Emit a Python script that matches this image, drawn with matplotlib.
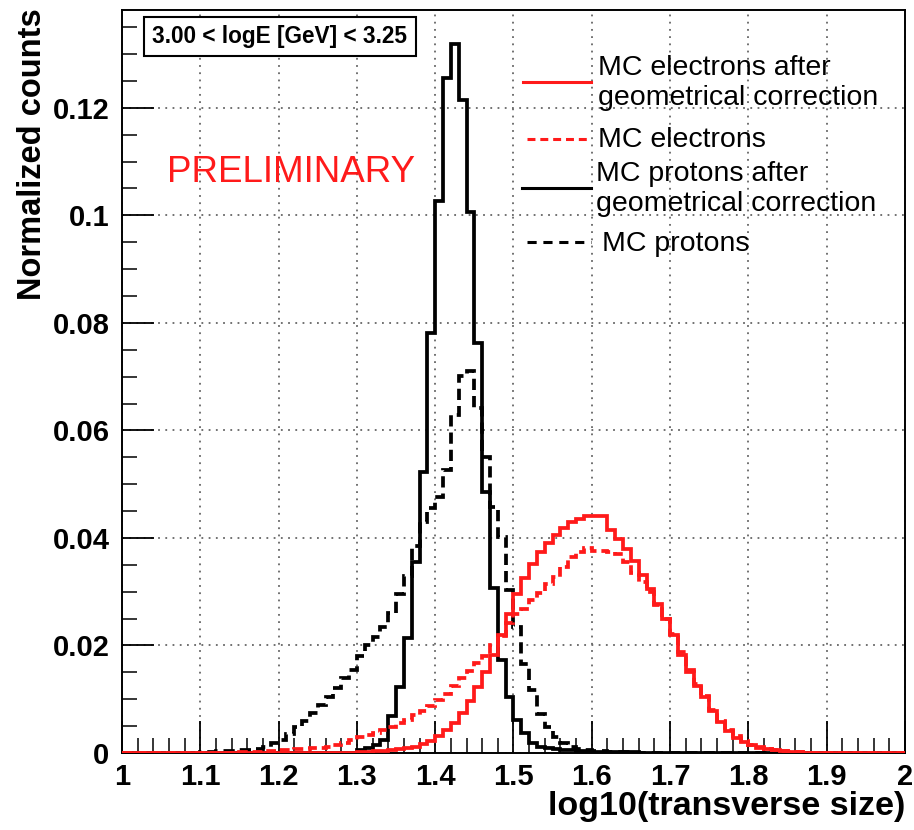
import numpy as np
import matplotlib
matplotlib.use("Agg")
import matplotlib.pyplot as plt
from matplotlib.lines import Line2D
from matplotlib.patches import Rectangle

# ---------------- data (bin width 0.01 on [1, 2]) ----------------
bin_lo, bin_hi, bin_w = 1.0, 2.0, 0.01

# MC protons after geometrical correction (first bin starts at 1.30)
prot_corr_start = 1.30
prot_corr = [0.0005, 0.0010, 0.0015, 0.0025, 0.0068, 0.0123, 0.0213, 0.0356,
             0.0523, 0.0781, 0.1026, 0.1255, 0.1319, 0.1215, 0.1007, 0.0762,
             0.0486, 0.0306, 0.0173, 0.0105, 0.0061, 0.0037, 0.0019, 0.0012,
             0.0010, 0.0008, 0.0006, 0.0005, 0.0004, 0.0003, 0.0002, 0.0002,
             0.0002, 0.0001, 0.0001, 0.0001]

# MC protons (first bin starts at 1.10)
prot_start = 1.10
prot = [0.0001, 0.0002, 0.0003, 0.0003, 0.0004, 0.0005, 0.0006, 0.0008,
        0.0012, 0.0018, 0.0025, 0.0035, 0.0048, 0.0060, 0.0075, 0.0090,
        0.0105, 0.0120, 0.0140, 0.0155, 0.0180, 0.0200, 0.0215, 0.0235,
        0.0260, 0.0295, 0.0330, 0.0385, 0.0430, 0.0455, 0.0477, 0.0527,
        0.0629, 0.0701, 0.0711, 0.0641, 0.0551, 0.0458, 0.0402, 0.0303,
        0.0235, 0.0165, 0.0117, 0.0072, 0.0049, 0.0030, 0.0019, 0.0012,
        0.0008, 0.0006, 0.0004, 0.0003, 0.0002, 0.0002, 0.0001]

# MC electrons after geometrical correction (first bin starts at 1.30)
elec_corr_start = 1.30
elec_corr = [0.0001, 0.0002, 0.0003, 0.0004, 0.0005, 0.0007, 0.0009, 0.0012,
             0.0016, 0.0022, 0.0031, 0.0042, 0.0056, 0.0075, 0.0097, 0.0122,
             0.0150, 0.0182, 0.0220, 0.0258, 0.0295, 0.0325, 0.0352, 0.0373,
             0.0391, 0.0406, 0.0419, 0.0429, 0.0436, 0.0441, 0.0441, 0.0440,
             0.0414, 0.0398, 0.0380, 0.0358, 0.0332, 0.0305, 0.0278, 0.0250,
             0.0220, 0.0183, 0.0150, 0.0125, 0.0104, 0.0078, 0.0057, 0.0040,
             0.0028, 0.0020, 0.0014, 0.0010, 0.0007, 0.0005, 0.0003, 0.0002,
             0.0001]

# MC electrons (first bin starts at 1.15)
elec_start = 1.15
elec = [0.0001, 0.0002, 0.0002, 0.0003, 0.0004, 0.0005, 0.0006, 0.0007,
        0.0008, 0.0009, 0.0010, 0.0012, 0.0015, 0.0019, 0.0024, 0.0029,
        0.0034, 0.0038, 0.0043, 0.0048, 0.0055, 0.0062, 0.0070, 0.0079,
        0.0088, 0.0099, 0.0110, 0.0124, 0.0139, 0.0152, 0.0167, 0.0180,
        0.0200, 0.0218, 0.0242, 0.0258, 0.0268, 0.0284, 0.0297, 0.0314,
        0.0328, 0.0346, 0.0364, 0.0374, 0.0381, 0.0376, 0.0376, 0.0374,
        0.0370, 0.0355, 0.0335, 0.0318, 0.0300, 0.0275, 0.0250, 0.0222,
        0.0188, 0.0155, 0.0128, 0.0106, 0.0080, 0.0060, 0.0043, 0.0031,
        0.0022, 0.0015, 0.0011, 0.0008, 0.0005, 0.0003, 0.0002, 0.0001]

x_ticks = [1, 1.1, 1.2, 1.3, 1.4, 1.5, 1.6, 1.7, 1.8, 1.9, 2]
x_ticklabels = ["1", "1.1", "1.2", "1.3", "1.4", "1.5", "1.6", "1.7", "1.8", "1.9", "2"]
y_ticks = [0, 0.02, 0.04, 0.06, 0.08, 0.10, 0.12]
y_ticklabels = ["0", "0.02", "0.04", "0.06", "0.08", "0.1", "0.12"]

legend_labels = ["MC electrons after\ngeometrical correction", "MC electrons",
                 "MC protons after\ngeometrical correction", "MC protons"]
energy_label = "3.00 < logE [GeV] < 3.25"
prelim_label = "PRELIMINARY"

# ---------------- build full histograms ----------------
nb = int(round((bin_hi - bin_lo) / bin_w))
edges = np.linspace(bin_lo, bin_hi, nb + 1)


def full_hist(start, vals):
    h = np.zeros(nb)
    i0 = int(round((start - bin_lo) / bin_w))
    h[i0:i0 + len(vals)] = vals
    return h


h_pc = full_hist(prot_corr_start, prot_corr)
h_p = full_hist(prot_start, prot)
h_ec = full_hist(elec_corr_start, elec_corr)
h_e = full_hist(elec_start, elec)

# ---------------- figure ----------------
W, H = 914, 830
fig = plt.figure(figsize=(W / 100, H / 100), dpi=100)
fig.patch.set_facecolor("white")


def fx(x):
    return x / W


def fy(y):
    return 1 - y / H


ax = fig.add_axes([fx(122), fy(753), (905 - 122) / W, (753 - 10) / H])
ax.set_xlim(1, 2)
ax.set_ylim(0, 0.1382)

RED = "#ff1a1a"
lw = 2.7
ax.stairs(h_p, edges, color="black", lw=lw, linestyle=(0, (3.0, 1.6)), zorder=3)
ax.stairs(h_pc, edges, color="black", lw=lw, zorder=4)
ax.stairs(h_e, edges, color=RED, lw=lw, linestyle=(0, (2.6, 1.3)), zorder=5)
ax.stairs(h_ec, edges, color=RED, lw=lw, zorder=6)

# axes styling
tfont = dict(family="Liberation Sans", weight="bold", size=21)
ax.set_xticks(x_ticks)
ax.set_xticklabels(x_ticklabels, fontdict=tfont)
ax.set_yticks(y_ticks)
ax.set_yticklabels(y_ticklabels, fontdict=tfont)
ax.set_xticks(np.arange(1.0, 2.0001, 0.02), minor=True)
ax.set_yticks(np.arange(0.0, 0.1381, 0.005), minor=True)
ax.tick_params(which="major", direction="in", length=23, width=1.3, pad=7)
ax.tick_params(which="minor", direction="in", length=11, width=1.1)
ax.tick_params(axis="y", which="major", pad=9)
ax.tick_params(top=False, right=False, which="both")
ax.grid(True, which="major", color="#666666", linestyle=(0, (1, 3)), lw=1.3)
ax.set_axisbelow(True)
for s in ax.spines.values():
    s.set_linewidth(1.4)

fig.text(fx(33), fy(8), "Normalized counts", rotation=90, ha="center", va="top",
         family="Liberation Sans", weight="bold", size=23.5)
fig.text(fx(905), fy(806), "log10(transverse size)", ha="right", va="center",
         family="Liberation Sans", weight="bold", size=24.5)

# energy box
fig.patches.append(Rectangle((fx(144), fy(56)), (416 - 144) / W, (56 - 17) / H,
                             transform=fig.transFigure, facecolor="white",
                             edgecolor="black", lw=1.5, zorder=10))
fig.text(fx(280), fy(37), energy_label, ha="center", va="center",
         family="Liberation Sans", weight="bold", size=16.3, zorder=11)

# preliminary
fig.text(fx(291), fy(172), prelim_label, ha="center", va="center", color=RED,
         family="Liberation Sans", size=26.5)

# legend (manual)
leg_styles = [
    dict(color=RED, ls="-", y=82, x0=523, tx=598, ty=83),
    dict(color=RED, ls=(0, (2.6, 1.6)), y=139, x0=527, tx=598, ty=140),
    dict(color="black", ls="-", y=188, x0=522, tx=596, ty=189),
    dict(color="black", ls=(0, (3.0, 2.2)), y=242, x0=527, tx=602, ty=244),
]
for st, lab in zip(leg_styles, legend_labels):
    fig.add_artist(Line2D([fx(st["x0"]), fx(591)], [fy(st["y"]), fy(st["y"])],
                          transform=fig.transFigure, color=st["color"],
                          ls=st["ls"], lw=2.2))
    fig.text(fx(st["tx"]), fy(st["ty"]), lab, ha="left", va="center",
             family="Liberation Sans", size=20.5, linespacing=1.2)

fig.savefig("out.png", dpi=100, facecolor="white")
